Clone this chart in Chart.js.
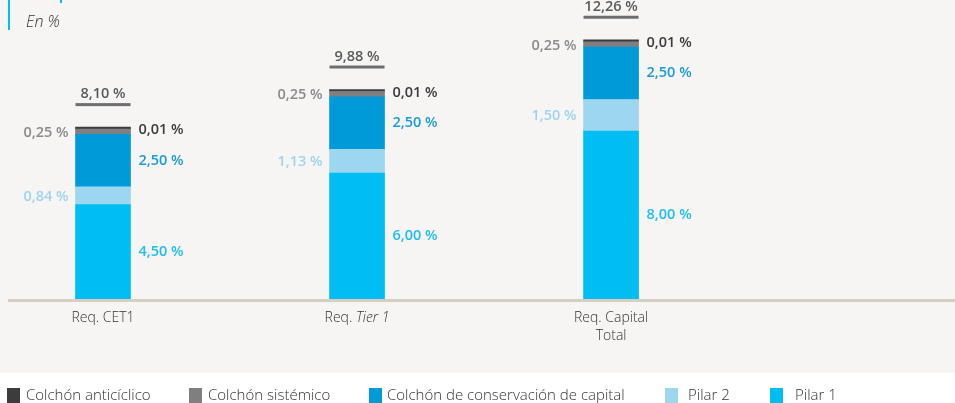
<!DOCTYPE html>
<html><head><meta charset="utf-8">
<script src="https://cdn.jsdelivr.net/npm/chart.js@4/dist/chart.umd.min.js"></script>
<style>html,body{margin:0;padding:0;background:#fff;}canvas{display:block;}</style>
</head><body>
<canvas id="c" width="955" height="403"></canvas>
<script>
// ---- data ----
const categories = ['Req. CET1', 'Req. Tier 1', 'Req. Capital Total'];
const pilar1 = [4.50, 6.00, 8.00];
const pilar2 = [0.84, 1.13, 1.50];
const conservacion = [2.50, 2.50, 2.50];
const sistemico = [0.25, 0.25, 0.25];
const anticiclico = [0.01, 0.01, 0.01];
const totals = [8.10, 9.88, 12.26];
const seriesNames = ['Colchón anticíclico', 'Colchón sistémico', 'Colchón de conservación de capital', 'Pilar 2', 'Pilar 1'];
const unitLabel = 'En %';

// ---- styles ----
const COL = {p1:'#00bdf2', p2:'#9cd7ef', cons:'#009ad8', sis:'#7f7f82', anti:'#3c3c3e'};
const LBL = {p1:'#1ebdf0', p2:'#9dd5ee', cons:'#1a9ad6', sis:'#8a8a8c', anti:'#3b3b3d', total:'#58595b'};
const FONT = '"Open Sans", "DejaVu Sans", sans-serif';
const fmt = v => v.toFixed(2).replace('.', ',') + ' %';

function ds(label, data, color, extra) {
  return Object.assign({label, data: data.map((y, i) => ({x: i, y})), backgroundColor: color,
    borderWidth: 0, barThickness: 55}, extra || {});
}

const bgPlugin = {
  id: 'bg',
  beforeDraw(chart) {
    const c = chart.ctx;
    c.save();
    c.fillStyle = '#ffffff'; c.fillRect(0, 0, chart.width, chart.height);
    c.fillStyle = '#f6f5f3'; c.fillRect(0, 0, chart.width, 373);
    c.fillStyle = '#00bdf2'; c.fillRect(8, 0, 2, 30); c.fillRect(60, 0, 2, 3);
    c.fillStyle = '#333333'; c.font = 'italic 300 16px ' + FONT; c.textBaseline = 'alphabetic'; c.textAlign = 'left';
    c.fillText(unitLabel, 26, 27);
    c.restore();
  }
};

const labelPlugin = {
  id: 'labels',
  afterDatasetsDraw(chart) {
    const c = chart.ctx, xs = chart.scales.x, ys = chart.scales.y, area = chart.chartArea;
    const m = k => chart.getDatasetMeta(k).data;
    c.save();
    // axis line
    c.fillStyle = '#d6cfc1';
    c.fillRect(area.left, ys.getPixelForValue(0), area.right - area.left, 3);
    c.textBaseline = 'middle';
    categories.forEach((cat, i) => {
      const b1 = m(0)[i], b2 = m(1)[i], b3 = m(2)[i], b4 = m(3)[i], b5 = m(4)[i];
      const half = b1.width / 2, cx = b1.x, L = cx - half, R = cx + half;
      const mid = b => (b.y + b.base) / 2;
      c.font = '600 14.5px ' + FONT;
      // left labels
      c.textAlign = 'right';
      c.fillStyle = LBL.sis; c.fillText(fmt(sistemico[i]), L - 7, mid(b4) + 1);
      c.fillStyle = LBL.p2; c.fillText(fmt(pilar2[i]), L - 7, mid(b2) + 1);
      // right labels
      c.textAlign = 'left';
      c.fillStyle = LBL.anti; c.fillText(fmt(anticiclico[i]), R + 8, b5.y + 3);
      c.fillStyle = LBL.cons; c.fillText(fmt(conservacion[i]), R + 8, mid(b3));
      c.fillStyle = LBL.p1; c.fillText(fmt(pilar1[i]), R + 8, mid(b1));
      // totals
      const top = b5.y;
      c.fillStyle = '#6d6e71'; c.fillRect(L, top - 24, 2 * half, 3);
      c.textAlign = 'center'; c.fillStyle = LBL.total;
      c.fillText(fmt(totals[i]), cx, top - 33);
      // category labels
      drawCategory(c, cat, cx, 318);
    });
    // legend
    const order = [4, 3, 2, 1, 0];
    const lx = [7, 189, 369, 665, 770];
    const tx = [26, 208, 387, 688, 795];
    c.font = '300 15px ' + FONT; c.textAlign = 'left'; c.textBaseline = 'middle';
    seriesNames.forEach((name, j) => {
      const d = chart.data.datasets[order[j]];
      c.fillStyle = d.backgroundColor; c.fillRect(lx[j], 388, 13, 15);
      c.fillStyle = '#333333'; c.fillText(name, tx[j], 396);
    });
    c.restore();
  }
};

function drawCategory(c, text, cx, y) {
  // wrap long labels onto two lines
  let lines = [text];
  c.font = '300 14px ' + FONT;
  if (c.measureText(text).width > 90) {
    const k = text.lastIndexOf(' ');
    lines = [text.slice(0, k), text.slice(k + 1)];
  }
  const italicTerm = 'Tier 1';
  lines.forEach((ln, j) => {
    const parts = [];
    const p = ln.indexOf(italicTerm);
    if (p >= 0) {
      if (p > 0) parts.push([ln.slice(0, p), false]);
      parts.push([italicTerm, true]);
      if (p + italicTerm.length < ln.length) parts.push([ln.slice(p + italicTerm.length), false]);
    } else parts.push([ln, false]);
    let w = 0;
    parts.forEach(pt => { c.font = (pt[1] ? 'italic ' : '') + '300 14px ' + FONT; w += c.measureText(pt[0]).width; });
    let x = cx - w / 2;
    c.fillStyle = '#333333'; c.textAlign = 'left'; c.textBaseline = 'middle';
    parts.forEach(pt => { c.font = (pt[1] ? 'italic ' : '') + '300 14px ' + FONT; c.fillText(pt[0], x, y + j * 18); x += c.measureText(pt[0]).width; });
  });
}

new Chart(document.getElementById('c'), {
  type: 'bar',
  data: {
    datasets: [
      ds('Pilar 1', pilar1, COL.p1),
      ds('Pilar 2', pilar2, COL.p2),
      ds('Colchón de conservación de capital', conservacion, COL.cons),
      ds('Colchón sistémico', sistemico, COL.sis),
      ds('Colchón anticíclico', anticiclico, COL.anti, {minBarLength: 2})
    ]
  },
  options: {
    responsive: false,
    animation: false,
    layout: {padding: {left: 8, right: 0, top: 5, bottom: 104}},
    scales: {
      x: {type: 'linear', min: -0.374, max: 3.354, offset: false, stacked: true, display: false},
      y: {min: 0, max: 14, stacked: true, display: false}
    },
    plugins: {legend: {display: false}, tooltip: {enabled: false}}
  },
  plugins: [bgPlugin, labelPlugin]
});
</script>
</body></html>
